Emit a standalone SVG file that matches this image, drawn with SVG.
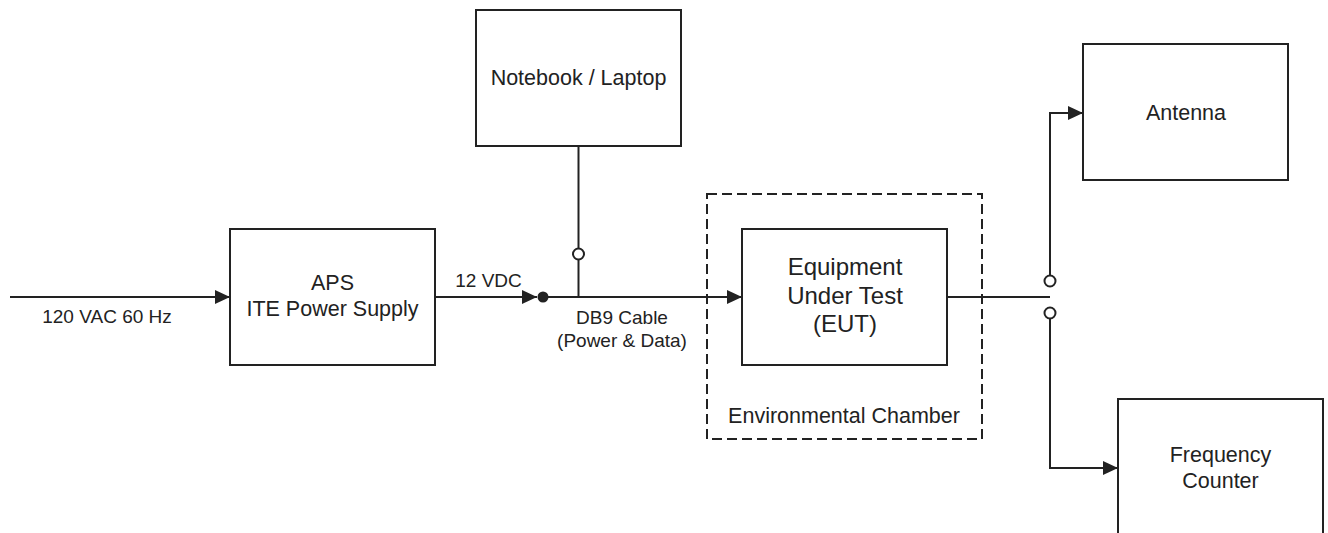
<svg xmlns="http://www.w3.org/2000/svg" width="1328" height="533" viewBox="0 0 1328 533">
<style>
.box{fill:#fff;stroke:#222;stroke-width:2}
.chamber{fill:none;stroke:#222;stroke-width:2;stroke-dasharray:10 5}
.ln{fill:none;stroke:#222;stroke-width:2}
.oc{fill:#fff;stroke:#222;stroke-width:2}
.t{font-family:"Liberation Sans",Arial,sans-serif;fill:#222;text-anchor:middle}
.n{font-size:21.5px}
.e{font-size:24px}
.l{font-size:19px}
</style>
<defs>
<marker id="arr" markerUnits="userSpaceOnUse" markerWidth="15" markerHeight="14" refX="15" refY="7" orient="auto">
<path d="M0,0 L15,7 L0,14 z" fill="#222"/>
</marker>
</defs>
<rect width="1328" height="533" fill="#fff"/>
<g id="chamber">
<rect class="chamber" x="707" y="194" width="275" height="245"/>
<text class="t n" x="844" y="423">Environmental Chamber</text>
</g>
<g id="connectors">
<path class="ln" d="M10,297 H230" marker-end="url(#arr)"/>
<path class="ln" d="M435,297 H537" marker-end="url(#arr)"/>
<path class="ln" d="M543,297 H742" marker-end="url(#arr)"/>
<circle cx="543" cy="297" r="5.5" fill="#222"/>
<path class="ln" d="M578.5,146 V248.5"/>
<path class="ln" d="M578.5,259.5 V297"/>
<circle class="oc" cx="578.5" cy="254" r="5.5"/>
<path class="ln" d="M947,297 H1050"/>
<path class="ln" d="M1050,275.5 V113 H1083" marker-end="url(#arr)"/>
<path class="ln" d="M1050,318.5 V468 H1118" marker-end="url(#arr)"/>
<circle class="oc" cx="1050" cy="281" r="5.5"/>
<circle class="oc" cx="1050" cy="313" r="5.5"/>
<text class="t l" x="107" y="323">120 VAC 60 Hz</text>
<text class="t l" x="488.5" y="287">12 VDC</text>
<text class="t l" x="622" y="324">DB9 Cable</text>
<text class="t l" x="622" y="347">(Power &amp; Data)</text>
</g>
<g id="notebook">
<rect class="box" x="476" y="10" width="205" height="136"/>
<text class="t n" x="578.5" y="85">Notebook / Laptop</text>
</g>
<g id="aps">
<rect class="box" x="230" y="229" width="205" height="136"/>
<text class="t n" x="332.5" y="290">APS</text>
<text class="t n" x="332.5" y="316">ITE Power Supply</text>
</g>
<g id="eut">
<rect class="box" x="742" y="229" width="205" height="136"/>
<text class="t e" x="845" y="275">Equipment</text>
<text class="t e" x="845" y="303.5">Under Test</text>
<text class="t e" x="845" y="332">(EUT)</text>
</g>
<g id="antenna">
<rect class="box" x="1083" y="44" width="205" height="136"/>
<text class="t n" x="1186" y="120">Antenna</text>
</g>
<g id="frequency-counter">
<rect class="box" x="1118" y="399" width="205" height="136"/>
<text class="t n" x="1220.5" y="462">Frequency</text>
<text class="t n" x="1220.5" y="487.5">Counter</text>
</g>
</svg>
